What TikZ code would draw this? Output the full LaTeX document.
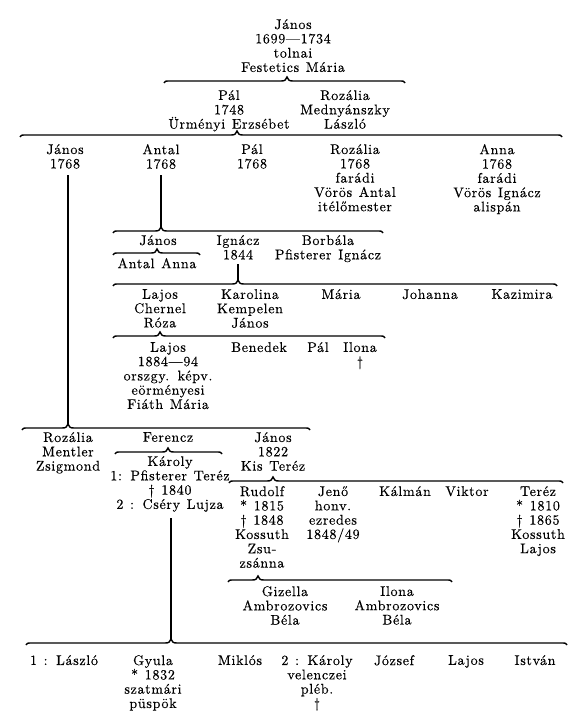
\documentclass[tikz,border=0pt]{standalone}
\usepackage{fontspec}
\setmainfont{lmroman10-regular.otf}[LetterSpace=5,WordSpace=1.25,FakeBold=0.3]
\usepackage{tikz}

\tikzset{
  person/.style={align=center,anchor=north,inner sep=0pt},
  famstroke/.style={line width=1.4pt},
}
% family line: name, left x, tip x, right x, y
\newcommand{\famline}[5]{%
  \draw[famstroke] (#2,#5+2) .. controls (#2+1,#5) .. (#2+7,#5) -- (#3-6,#5)
    .. controls (#3-2,#5) and (#3-1,#5-1) .. (#3,#5-4)
    .. controls (#3+1,#5-1) and (#3+2,#5) .. (#3+6,#5) -- (#4-7,#5)
    .. controls (#4-1,#5) .. (#4,#5+2);
  \coordinate (#1) at (#3,#5-4);}

\begin{document}
\begin{tikzpicture}[x=1pt,y=-1pt,font=\fontsize{14}{14.3}\selectfont]
  \useasboundingbox (0,0) rectangle (583,719);

  % First generation
  \node[person] (jan0) at (293,19) {János\\1699—1734\\tolnai\\Festetics Mária};
  \famline{b1}{164}{287}{405}{81}

  \node[person] (pal1) at (229,90) {Pál\\1748\\Ürményi Erzsébet};
  \node[person] (roz1) at (345,90) {Rozália\\Mednyánszky\\László};
  \famline{b2}{20}{237}{562}{135}

  % Children of Pál
  \node[person] (jan2) at (65,144) {János\\1768};
  \node[person] (ant2) at (161,144) {Antal\\1768};
  \node[person] (pal2) at (252,144) {Pál\\1768};
  \node[person] (roz2) at (355,144) {Rozália\\1768\\farádi\\Vörös Antal\\itélőmester};
  \node[person] (ann2) at (497,144) {Anna\\1768\\farádi\\Vörös Ignácz\\alispán};

  % Line of Antal
  \famline{b3}{113}{161}{383}{231}
  \draw[famstroke,shorten >=6pt] (b3) -- (b3 |- ant2.south);
  \node[person] (jan3) at (158,235) {János};
  \famline{b3a}{113}{157}{200}{253}
  \node[person] (antann) at (157,258) {Antal Anna};
  \node[person] (ign3) at (238,235) {Ignácz\\1844};
  \node[person] (bor3) at (328,235) {Borbála\\Pfisterer Ignácz};

  \famline{b4}{113}{238}{557}{284}
  \draw[famstroke,shorten >=4pt] (b4) -- (b4 |- ign3.south);
  \node[person] (laj4) at (160,289) {Lajos\\Chernel\\Róza};
  \node[person] (kar4) at (250,289) {Karolina\\Kempelen\\János};
  \node[person] (mar4) at (341,289) {Mária};
  \node[person] (joh4) at (430,289) {Johanna};
  \node[person] (kaz4) at (522,289) {Kazimira};

  \famline{b5}{113}{160}{385}{336}
  \node[person] (laj5) at (168,342) {Lajos\\1884—94\\orszgy. képv.\\eörményesi\\Fiáth Mária};
  \node[person] (ben5) at (259,342) {Benedek};
  \node[person] (pal5) at (318,342) {Pál};
  \node[person] (ilo5) at (360,342) {Ilona\\†};

  % Line of János
  \famline{b6}{22}{68}{310}{428}
  \draw[famstroke,shorten >=6pt] (b6) -- (b6 |- jan2.south);
  \node[person] (roz6) at (68,432) {Rozália\\Mentler\\Zsigmond};
  \node[person] (fer6) at (168,432) {Ferencz};
  \famline{b6a}{115}{168}{222}{452}
  \node[person] (kar6) at (170,456) {Károly\\1: Pfisterer Teréz\\† 1840\\2 : Cséry Lujza};
  \node[person] (jan6) at (273,432) {János\\1822\\Kis Teréz};

  \famline{b7}{229}{273}{563}{481}
  \node[person] (rud7) at (262,486) {Rudolf\\* 1815\\† 1848\\Kossuth\\Zsu-\\zsánna};
  \node[person] (jen7) at (333,486) {Jenő\\honv.\\ezredes\\1848/49};
  \node[person] (kal7) at (405,486) {Kálmán};
  \node[person] (vik7) at (467,486) {Viktor};
  \node[person] (ter7) at (538,486) {Teréz\\* 1810\\† 1865\\Kossuth\\Lajos};

  \famline{b9}{228}{258}{452}{580}
  \node[person] (giz8) at (285,586) {Gizella\\Ambrozovics\\Béla};
  \node[person] (ilo8) at (397,586) {Ilona\\Ambrozovics\\Béla};

  % Children of Károly
  \famline{b8}{26}{171}{567}{643}
  \draw[famstroke,shorten >=6pt] (b8) -- (b8 |- kar6.south);
  \node[person] (las9) at (64,655) {1 : László};
  \node[person] (gyu9) at (153,655) {Gyula\\* 1832\\szatmári\\püspök};
  \node[person] (mik9) at (240,655) {Miklós};
  \node[person] (kar9) at (317,655) {2 : Károly\\velenczei\\pléb.\\†};
  \node[person] (joz9) at (394,655) {József};
  \node[person] (laj9) at (466,655) {Lajos};
  \node[person] (ist9) at (535,655) {István};
\end{tikzpicture}
\end{document}
